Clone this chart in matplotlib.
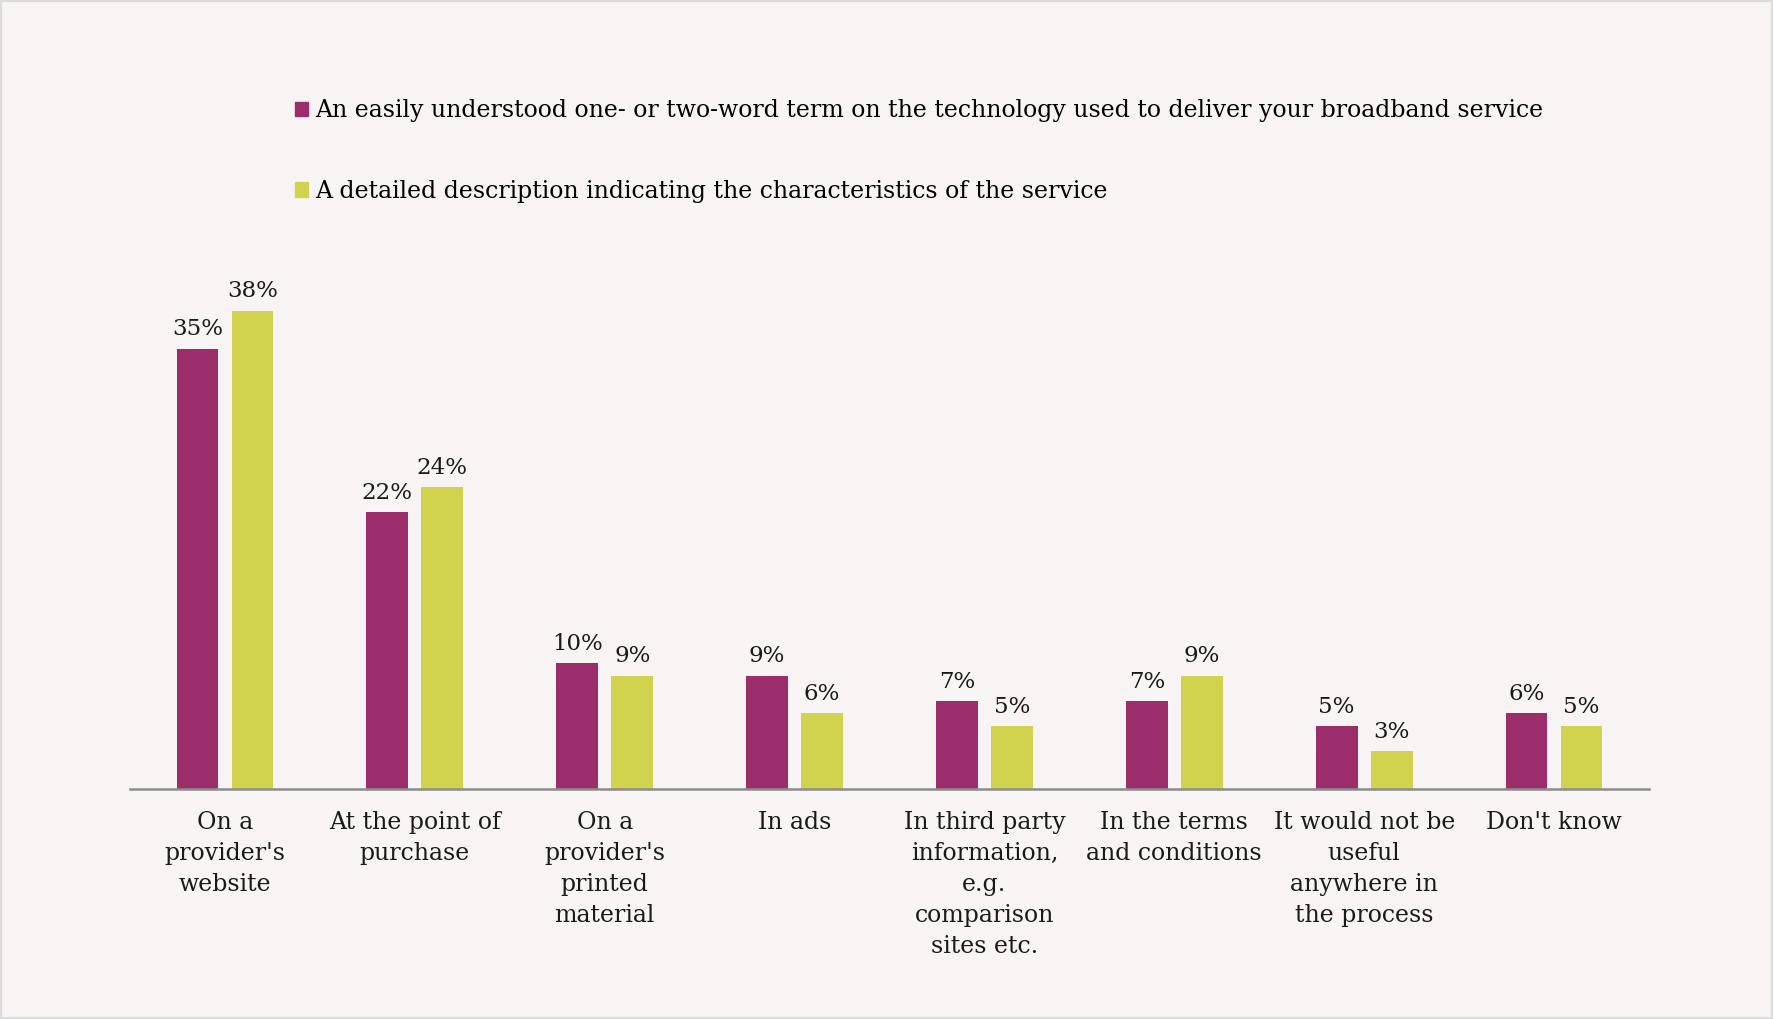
import matplotlib.pyplot as plt
import numpy as np
from matplotlib.patches import Patch, Rectangle

# Datos
categorias = [
    "On a\nprovider's\nwebsite",
    "At the point of\npurchase",
    "On a\nprovider's\nprinted\nmaterial",
    "In ads",
    "In third party\ninformation,\ne.g.\ncomparison\nsites etc.",
    "In the terms\nand conditions",
    "It would not be\nuseful\nanywhere in\nthe process",
    "Don't know",
]
termino_corto = [35, 22, 10, 9, 7, 7, 5, 6]
descripcion = [38, 24, 9, 6, 5, 9, 3, 5]
series_nombres = [
    "An easily understood one- or two-word term on the technology used to deliver your broadband service",
    "A detailed description indicating the characteristics of the service",
]

fondo = "#F8F4F3"
morado = "#9B2D6B"
verde = "#D1D34F"
plt.rcParams["font.family"] = ["DejaVu Serif"]

fig = plt.figure(figsize=(17.73, 10.19), dpi=100, facecolor=fondo)
ax = fig.add_axes([130 / 1773, 230 / 1019, 1519 / 1773, 0.494])
ax.set_facecolor(fondo)

x = np.arange(len(categorias))
ancho = 0.22
off = 0.145
b1 = ax.bar(x - off, termino_corto, ancho, color=morado)
b2 = ax.bar(x + off, descripcion, ancho, color=verde)

for barras, valores in ((b1, termino_corto), (b2, descripcion)):
    for b, v in zip(barras, valores):
        ax.annotate(f"{v}%", (b.get_x() + b.get_width() / 2, v),
                    xytext=(0, 6), textcoords="offset points",
                    ha="center", va="bottom", fontsize=16.5, color="#1a1a1a")

ax.set_xlim(-0.5, len(categorias) - 0.5)
ax.set_ylim(0, 40)
ax.set_xticks(x)
ax.set_xticklabels(categorias, fontsize=17, color="#1a1a1a", linespacing=1.44)
ax.tick_params(axis="x", length=0, pad=16)
ax.set_yticks([])
for s in ("top", "right", "left"):
    ax.spines[s].set_visible(False)
ax.spines["bottom"].set_color("#8c8c8c")
ax.spines["bottom"].set_linewidth(1.8)

handles = [Patch(color=morado), Patch(color=verde)]
fig.legend(handles, series_nombres, loc="upper left",
           bbox_to_anchor=(295 / 1773, 1 - 99 / 1019), frameon=False,
           fontsize=17, handlelength=0.55, handleheight=0.55, handletextpad=0.3,
           labelspacing=2.45, borderpad=0, borderaxespad=0)

# Borde gris claro del marco
fig.patches.append(Rectangle((0, 0), 1, 1, transform=fig.transFigure,
                             fill=False, edgecolor="#dcdcdc", linewidth=3))

fig.savefig("out.png", dpi=100, facecolor=fondo)
